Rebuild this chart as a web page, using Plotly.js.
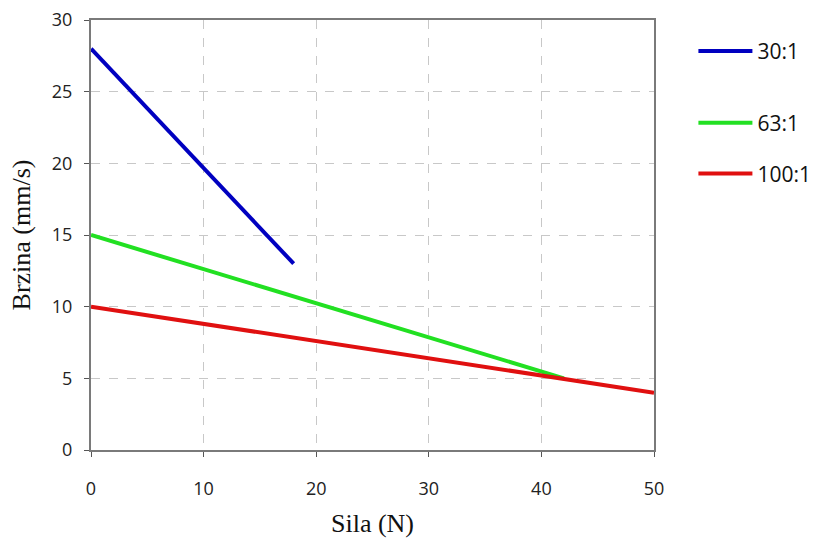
<!DOCTYPE html>
<html><head><meta charset="utf-8">
<script src="https://cdn.plot.ly/plotly-3.0.1.min.js"></script>
<style>body{margin:0;background:#fff}#c{width:821px;height:541px}</style>
</head><body><div id="c"></div>
<script>
const seriesNames = ["30:1", "63:1", "100:1"];
const x30 = [0, 18];
const y30 = [28, 13];
const x63 = [0, 42];
const y63 = [15, 5];
const x100 = [0, 50];
const y100 = [10, 4];
const colors = ["#0000c0", "#22e022", "#e01010"];

const xs = [x30, x63, x100];
const ys = [y30, y63, y100];
const legends = ["legend", "legend2", "legend3"];
const legendY = [0.975, 0.808, 0.69];

const traces = seriesNames.map((n, i) => ({
  x: xs[i], y: ys[i], name: n, type: "scatter", mode: "lines",
  line: {color: colors[i], width: 4}, legend: legends[i]
}));

const axisCommon = {
  showline: true, mirror: true, linecolor: "#7a7a7a", linewidth: 2,
  ticks: "outside", ticklen: 5, tickcolor: "#555", tickwidth: 1,
  showgrid: true, gridcolor: "#c8c8c8", griddash: "dash", gridwidth: 1,
  zeroline: false,
  tickfont: {family: "Open Sans, Liberation Sans, sans-serif", size: 18, color: "#222"}
};

const layout = {
  width: 821, height: 541,
  margin: {l: 91, r: 167, t: 20, b: 91, autoexpand: false},
  paper_bgcolor: "#fff", plot_bgcolor: "#fff",
  xaxis: Object.assign({}, axisCommon, {
    range: [0, 50], dtick: 10, ticklabelstandoff: 16,
    title: {text: "Sila (N)", font: {family: "Liberation Serif, Times New Roman, serif", size: 26, color: "#111"}, standoff: 15}
  }),
  yaxis: Object.assign({}, axisCommon, {
    range: [0, 30], dtick: 5, ticklabelstandoff: 8,
    title: {text: "Brzina (mm/s)", font: {family: "Liberation Serif, Times New Roman, serif", size: 26, color: "#111"}, standoff: 14}
  }),
  showlegend: true
};
legends.forEach((lg, i) => {
  layout[lg] = {x: 1.07, y: legendY[i], xanchor: "left", yanchor: "top",
    font: {family: "Open Sans, Liberation Sans, sans-serif", size: 21, color: "#111"},
    bgcolor: "rgba(0,0,0,0)", itemwidth: 54};
});
Plotly.newPlot("c", traces, layout, {displayModeBar: false});
</script></body></html>
